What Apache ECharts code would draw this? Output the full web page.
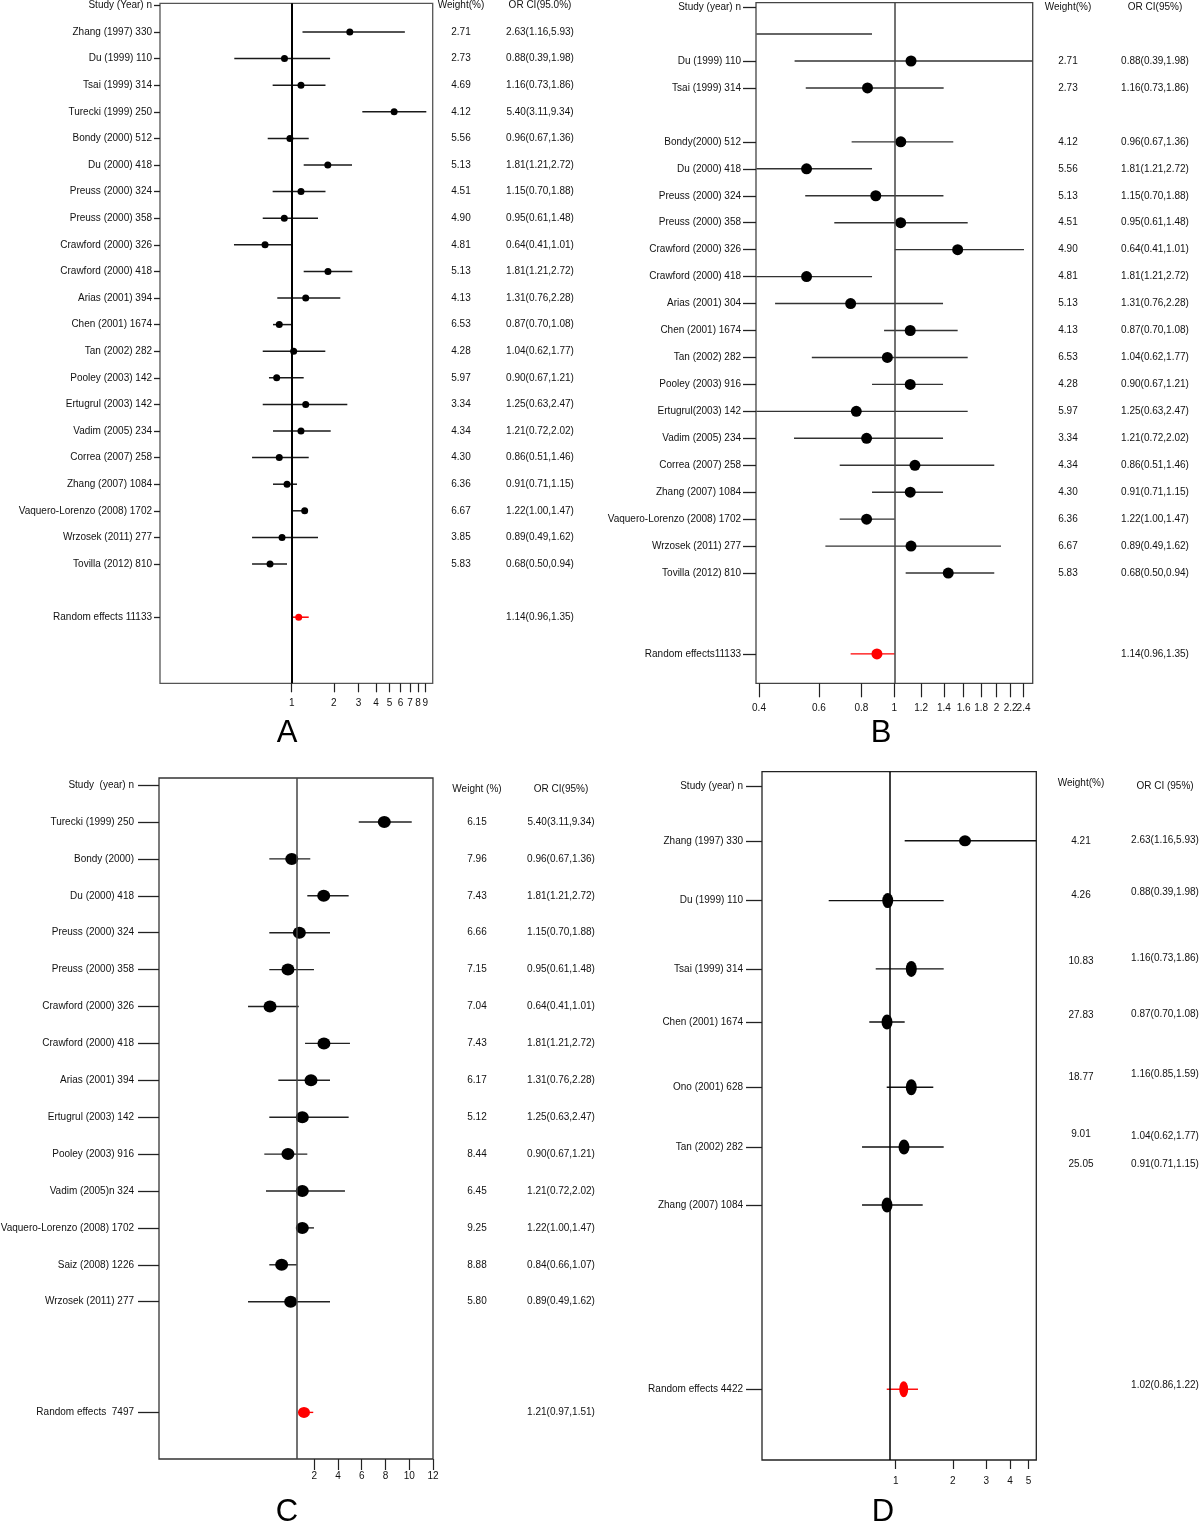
<!DOCTYPE html>
<html><head><meta charset="utf-8">
<script src="https://cdn.jsdelivr.net/npm/echarts@6.0.0/dist/echarts.min.js"></script>
<style>html,body{margin:0;padding:0;background:#fff}#c{width:1200px;height:1529px}</style>
</head><body><div id="c"></div>
<script>
// ================= DATA =================
// ---- Panel A ----
const headerA = 'Study (Year) n';
const studiesA = ['Zhang (1997) 330','Du (1999) 110','Tsai (1999) 314','Turecki (1999) 250','Bondy (2000) 512','Du (2000) 418','Preuss (2000) 324','Preuss (2000) 358','Crawford (2000) 326','Crawford (2000) 418','Arias (2001) 394','Chen (2001) 1674','Tan (2002) 282','Pooley (2003) 142','Ertugrul (2003) 142','Vadim (2005) 234','Correa (2007) 258','Zhang (2007) 1084','Vaquero-Lorenzo (2008) 1702','Wrzosek (2011) 277','Tovilla (2012) 810','Random effects 11133'];
const rowsA = [1,2,3,4,5,6,7,8,9,10,11,12,13,14,15,16,17,18,19,20,21,23];
const pointA = [2.60,0.888,1.165,5.39,0.971,1.811,1.165,0.885,0.645,1.816,1.259,0.815,1.033,0.781,1.259,1.165,0.815,0.926,1.238,0.853,0.700,1.122];
const lowA   = [1.194,0.389,0.731,3.194,0.674,1.218,0.731,0.621,0.387,1.218,0.789,0.735,0.621,0.688,0.621,0.735,0.521,0.735,1.005,0.521,0.521,1.005];
const highA  = [6.43,1.881,1.743,9.15,1.323,2.696,1.743,1.541,1.005,2.709,2.224,1.005,1.738,1.218,2.496,1.899,1.323,1.091,1.265,1.541,0.926,1.323];
const weightHeaderA = 'Weight(%)';
const weightA = ['2.71','2.73','4.69','4.12','5.56','5.13','4.51','4.90','4.81','5.13','4.13','6.53','4.28','5.97','3.34','4.34','4.30','6.36','6.67','3.85','5.83',''];
const orHeaderA = 'OR CI(95.0%)';
const orA = ['2.63(1.16,5.93)','0.88(0.39,1.98)','1.16(0.73,1.86)','5.40(3.11,9.34)','0.96(0.67,1.36)','1.81(1.21,2.72)','1.15(0.70,1.88)','0.95(0.61,1.48)','0.64(0.41,1.01)','1.81(1.21,2.72)','1.31(0.76,2.28)','0.87(0.70,1.08)','1.04(0.62,1.77)','0.90(0.67,1.21)','1.25(0.63,2.47)','1.21(0.72,2.02)','0.86(0.51,1.46)','0.91(0.71,1.15)','1.22(1.00,1.47)','0.89(0.49,1.62)','0.68(0.50,0.94)','1.14(0.96,1.35)'];
const ticksA = [1,2,3,4,5,6,7,8,9];
const refA = 1;

// ---- Panel B ----
const headerB = 'Study (year) n';
const studiesB = ['','Du (1999) 110','Tsai (1999) 314','Bondy(2000) 512','Du (2000) 418','Preuss (2000) 324','Preuss (2000) 358','Crawford (2000) 326','Crawford (2000) 418','Arias (2001) 304','Chen (2001) 1674','Tan (2002) 282','Pooley (2003) 916','Ertugrul(2003) 142','Vadim (2005) 234','Correa (2007) 258','Zhang (2007) 1084','Vaquero-Lorenzo (2008) 1702','Wrzosek (2011) 277','Tovilla (2012) 810','Random effects11133'];
const rowsB = [1,2,3,5,6,7,8,9,10,11,12,13,14,15,16,17,18,19,20,21,24];
const pointB = [null,1.120,0.834,1.045,0.552,0.882,1.044,1.536,0.552,0.744,1.114,0.954,1.114,0.773,0.829,1.150,1.114,0.829,1.120,1.441,0.889];
const lowB   = [0.393,0.509,0.549,0.749,0.393,0.547,0.666,1.003,0.393,0.446,0.933,0.572,0.860,0.393,0.507,0.691,0.860,0.691,0.627,1.080,0.744];
const highB  = [0.860,2.55,1.397,1.491,0.860,1.395,1.644,2.407,0.860,1.391,1.536,1.644,1.391,1.644,1.391,1.968,1.391,1.003,2.060,1.968,1.003];
const weightHeaderB = 'Weight(%)';
const weightB = ['','2.71','2.73','4.12','5.56','5.13','4.51','4.90','4.81','5.13','4.13','6.53','4.28','5.97','3.34','4.34','4.30','6.36','6.67','5.83',''];
const orHeaderB = 'OR CI(95%)';
const orB = ['','0.88(0.39,1.98)','1.16(0.73,1.86)','0.96(0.67,1.36)','1.81(1.21,2.72)','1.15(0.70,1.88)','0.95(0.61,1.48)','0.64(0.41,1.01)','1.81(1.21,2.72)','1.31(0.76,2.28)','0.87(0.70,1.08)','1.04(0.62,1.77)','0.90(0.67,1.21)','1.25(0.63,2.47)','1.21(0.72,2.02)','0.86(0.51,1.46)','0.91(0.71,1.15)','1.22(1.00,1.47)','0.89(0.49,1.62)','0.68(0.50,0.94)','1.14(0.96,1.35)'];
const ticksB = [0.4,0.6,0.8,1,1.2,1.4,1.6,1.8,2,2.2,2.4];
const refB = 1;

// ---- Panel C ----
const headerC = 'Study  (year) n';
const studiesC = ['Turecki (1999) 250','Bondy (2000)','Du (2000) 418','Preuss (2000) 324','Preuss (2000) 358','Crawford (2000) 326','Crawford (2000) 418','Arias (2001) 394','Ertugrul (2003) 142','Pooley (2003) 916','Vadim (2005)n 324','Vaquero-Lorenzo (2008) 1702','Saiz (2008) 1226','Wrzosek (2011) 277','Random effects  7497'];
const rowsC = [1,2,3,4,5,6,7,8,9,10,11,12,13,14,17];
const pointC = [7.90,0.11,2.80,0.75,-0.21,-1.72,2.82,1.73,1.00,-0.21,1.00,1.00,-0.74,0.02,1.14];
const lowC   = [5.75,-1.78,1.42,-1.78,-1.78,-3.57,1.23,-1.02,-1.78,-2.20,-2.06,0.53,-1.78,-3.57,0.66];
const highC  = [10.21,1.67,4.90,3.33,1.98,0.70,5.01,3.33,4.90,1.42,4.59,1.98,0.53,3.33,1.92];
const weightHeaderC = 'Weight (%)';
const weightC = ['6.15','7.96','7.43','6.66','7.15','7.04','7.43','6.17','5.12','8.44','6.45','9.25','8.88','5.80',''];
const orHeaderC = 'OR CI(95%)';
const orC = ['5.40(3.11,9.34)','0.96(0.67,1.36)','1.81(1.21,2.72)','1.15(0.70,1.88)','0.95(0.61,1.48)','0.64(0.41,1.01)','1.81(1.21,2.72)','1.31(0.76,2.28)','1.25(0.63,2.47)','0.90(0.67,1.21)','1.21(0.72,2.02)','1.22(1.00,1.47)','0.84(0.66,1.07)','0.89(0.49,1.62)','1.21(0.97,1.51)'];
const ticksC = [2,4,6,8,10,12];
const refC = 0.53;

// ---- Panel D ----
const headerD = 'Study (year) n';
const studiesD = ['Zhang (1997) 330','Du (1999) 110','Tsai (1999) 314','Chen (2001) 1674','Ono (2001) 628','Tan (2002) 282','Zhang (2007) 1084','Random effects 4422'];
const rowsD = [1.03,2.01,3.13,4.0,5.07,6.05,7.0,10.02];
const pointD = [2.316,0.908,1.208,0.900,1.208,1.106,0.900,1.102];
const lowD   = [1.115,0.444,0.785,0.726,0.897,0.665,0.665,0.897];
const highD  = [5.49,1.789,1.789,1.115,1.577,1.789,1.387,1.310];
const weightHeaderD = 'Weight(%)';
const weightD = ['4.21','4.26','10.83','27.83','18.77','9.01','25.05'];
const weightRowsD = [1.03,1.92,3.0,3.89,4.9,5.84,6.33];
const orHeaderD = 'OR CI (95%)';
const orD = ['2.63(1.16,5.93)','0.88(0.39,1.98)','1.16(0.73,1.86)','0.87(0.70,1.08)','1.16(0.85,1.59)','1.04(0.62,1.77)','0.91(0.71,1.15)','1.02(0.86,1.22)'];
const orRowsD = [1.02,1.87,2.95,3.87,4.85,5.87,6.33,9.95];
const ticksD = [1,2,3,4,5];
const refD = 0.925;

// ================= LAYOUT / STYLE =================
const FONT = "'Liberation Sans', Arial, Helvetica, sans-serif";
const sizesD = [[12,11],[11,15],[11,16],[11,15],[11,16],[11,15],[11,15],[9,16]];

const panels = [
  { log:true, g:[160,3.3,272.7,680], xMin:-0.9407, xMax:1.0071, yMin:-0.079, yMax:25.485,
    ticks:ticksA, xTickLen:9, xMargin:15, ref:refA, splitLabels:[],
    header:headerA, headerRow:0, labels:studiesA, rows:rowsA, lTick:6, lMargin:8,
    points:pointA, lows:lowA, highs:highA,
    wHeader:weightHeaderA, wHeaderRow:0, weights:weightA, weightRows:rowsA, wMargin:28.3,
    oHeader:orHeaderA, oHeaderRow:0, ors:orA, orRows:rowsA, oMargin:107.3,
    box:'#555', line:'#1a1a1a', lineW:1.5, refColor:'#000', refW:2, dot:7, redDot:7 },
  { log:true, g:[756,2.7,276.7,680.6], xMin:-0.4068, xMax:0.4071, yMin:-0.163, yMax:25.09,
    ticks:ticksB, xTickLen:14, xMargin:20, ref:refB, splitLabels:[2.2],
    header:headerB, headerRow:0, labels:studiesB, rows:rowsB, lTick:13, lMargin:15,
    points:pointB, lows:lowB, highs:highB,
    wHeader:weightHeaderB, wHeaderRow:0, weights:weightB, weightRows:rowsB, wMargin:35.3,
    oHeader:orHeaderB, oHeaderRow:0, ors:orB, orRows:rowsB, oMargin:122.3,
    box:'#444', line:'#333', lineW:1.4, refColor:'#444', refW:1.5, dot:11, redDot:11 },
  { log:false, g:[159,778,274,681], xMin:-11.064, xMax:12, yMin:-0.192, yMax:18.263,
    ticks:ticksC, xTickLen:11, xMargin:12, ref:refC, splitLabels:[],
    header:headerC, headerRow:0, labels:studiesC, rows:rowsC, lTick:21, lMargin:25,
    points:pointC, lows:lowC, highs:highC,
    wHeader:weightHeaderC, wHeaderRow:0.12, weights:weightC, weightRows:rowsC, wMargin:44,
    oHeader:orHeaderC, oHeaderRow:0.12, ors:orC, orRows:rowsC, oMargin:128,
    box:'#333', line:'#222', lineW:1.4, refColor:'#444', refW:1.5, dot:[13,12], redDot:[12,11] },
  { log:true, g:[762,771.7,274.3,688.3], xMin:-0.7037, xMax:0.74, yMin:-0.103, yMax:11.18,
    ticks:ticksD, xTickLen:9, xMargin:16, ref:refD, splitLabels:[],
    header:headerD, headerRow:0.14, labels:studiesD, rows:rowsD, lTick:16, lMargin:19,
    points:pointD, lows:lowD, highs:highD, sizes:sizesD,
    wHeader:weightHeaderD, wHeaderRow:0.09, weights:weightD, weightRows:weightRowsD, wMargin:44.7,
    oHeader:orHeaderD, oHeaderRow:0.14, ors:orD, orRows:orRowsD, oMargin:128.7,
    box:'#222', line:'#111', lineW:1.4, refColor:'#000', refW:1.5, dot:[11,15], redDot:[9,16] }
];

const letters = [['A',287,733],['B',881,733],['C',287,1512],['D',883,1512]];

// ================= BUILD =================
function lookup(vals, texts) {
  return function (v) {
    for (let k = 0; k < vals.length; k++) if (Math.abs(vals[k] - v) < 1e-6) return texts[k];
    return '';
  };
}
function pick(rows, texts) {
  const r = [], t = [];
  rows.forEach((row, k) => { if (texts[k]) { r.push(row); t.push(texts[k]); } });
  return [r, t];
}
function ciRender(color, width) {
  return function (params, api) {
    const a = api.coord([api.value(0), api.value(2)]);
    const b = api.coord([api.value(1), api.value(2)]);
    return { type: 'line', shape: { x1: a[0], y1: a[1], x2: b[0], y2: b[1] },
             style: { stroke: color, lineWidth: width } };
  };
}

const option = { animation: false, backgroundColor: '#fff', grid: [], xAxis: [], yAxis: [], series: [], graphic: [] };

panels.forEach((P, gi) => {
  const tx = v => (P.log ? Math.log10(v) : v);
  option.grid.push({ left: P.g[0], top: P.g[1], width: P.g[2], height: P.g[3], show: true,
    borderColor: P.box, borderWidth: 1.3, backgroundColor: 'transparent', containLabel: false, outerBoundsMode: 'none' });
  const lab = { fontSize: 10, color: '#111', fontFamily: FONT, hideOverlap: false, showMinLabel: true, showMaxLabel: true };
  const xt = P.ticks.map(tx);
  const mainLabTicks = P.ticks.filter(t => P.splitLabels.indexOf(t) < 0);
  const mainLab = mainLabTicks.map(tx);
  const xBase = option.xAxis.length;
  option.xAxis.push({ gridIndex: gi, type: 'value', position: 'bottom', min: P.xMin, max: P.xMax,
    axisLine: { show: false, onZero: false }, splitLine: { show: false },
    axisTick: { show: true, customValues: xt, length: P.xTickLen, lineStyle: { color: '#222', width: 1.2 } },
    axisLabel: Object.assign({ show: true, customValues: mainLab, margin: P.xMargin, formatter: lookup(mainLab, mainLabTicks.map(String)) }, lab) });
  if (P.splitLabels.length) {
    const sl = P.splitLabels.map(tx);
    option.xAxis.push({ gridIndex: gi, type: 'value', position: 'bottom', min: P.xMin, max: P.xMax,
      axisLine: { show: false, onZero: false }, splitLine: { show: false }, axisTick: { show: false },
      axisLabel: Object.assign({ show: true, customValues: sl, margin: P.xMargin, formatter: lookup(sl, P.splitLabels.map(String)) }, lab) });
  }
  const yBase = option.yAxis.length;
  const common = { gridIndex: gi, type: 'value', inverse: true, min: P.yMin, max: P.yMax,
    axisLine: { show: false, onZero: false }, splitLine: { show: false } };
  const [lr, lt] = pick([P.headerRow].concat(P.rows), [P.header].concat(P.labels));
  option.yAxis.push(Object.assign({}, common, { position: 'left',
    axisTick: { show: true, customValues: lr, length: P.lTick, lineStyle: { color: '#222', width: 1.3 } },
    axisLabel: Object.assign({ show: true, customValues: lr, margin: P.lMargin, formatter: lookup(lr, lt) }, lab) }));
  const [wr, wt] = pick([P.wHeaderRow].concat(P.weightRows), [P.wHeader].concat(P.weights));
  option.yAxis.push(Object.assign({}, common, { position: 'right', axisTick: { show: false },
    axisLabel: Object.assign({ show: true, customValues: wr, margin: P.wMargin, align: 'center', formatter: lookup(wr, wt) }, lab) }));
  const [orr, ort] = pick([P.oHeaderRow].concat(P.orRows), [P.oHeader].concat(P.ors));
  option.yAxis.push(Object.assign({}, common, { position: 'right', axisTick: { show: false },
    axisLabel: Object.assign({ show: true, customValues: orr, margin: P.oMargin, align: 'center', formatter: lookup(orr, ort) }, lab) }));

  const n = P.rows.length;
  const ciB = [], ciR = [], ptB = [], ptR = [];
  for (let k = 0; k < n; k++) {
    const red = k === n - 1;
    if (P.lows[k] != null) (red ? ciR : ciB).push([tx(P.lows[k]), tx(P.highs[k]), P.rows[k]]);
    if (P.points[k] != null) {
      const item = { value: [tx(P.points[k]), P.rows[k]] };
      if (P.sizes) item.symbolSize = P.sizes[k];
      (red ? ptR : ptB).push(item);
    }
  }
  option.series.push({ type: 'custom', xAxisIndex: xBase, yAxisIndex: yBase, renderItem: ciRender(P.line, P.lineW),
    encode: { x: [0, 1], y: 2 }, data: ciB, z: 2, silent: true });
  option.series.push({ type: 'custom', xAxisIndex: xBase, yAxisIndex: yBase, renderItem: ciRender('#ff0000', P.lineW),
    encode: { x: [0, 1], y: 2 }, data: ciR, z: 2, silent: true });
  option.series.push({ type: 'scatter', xAxisIndex: xBase, yAxisIndex: yBase, data: ptB, symbol: 'circle',
    symbolSize: P.dot, itemStyle: { color: '#000', opacity: 1 }, z: 3, silent: true,
    markLine: { silent: true, symbol: ['none', 'none'], label: { show: false }, animation: false,
      lineStyle: { color: P.refColor, width: P.refW, type: 'solid' }, data: [{ xAxis: tx(P.ref) }] } });
  option.series.push({ type: 'scatter', xAxisIndex: xBase, yAxisIndex: yBase, data: ptR, symbol: 'circle',
    symbolSize: P.redDot, itemStyle: { color: '#ff0000', opacity: 1 }, z: 3, silent: true });
});

letters.forEach(([t, x, y]) => {
  option.graphic.push({ type: 'text', x: x, y: y, silent: true,
    style: { text: t, align: 'center', verticalAlign: 'middle', fontSize: 31, fontFamily: FONT, fill: '#000' } });
});

const chart = echarts.init(document.getElementById('c'), null, { renderer: 'canvas', width: 1200, height: 1529 });
chart.setOption(option);
</script>
</body></html>
